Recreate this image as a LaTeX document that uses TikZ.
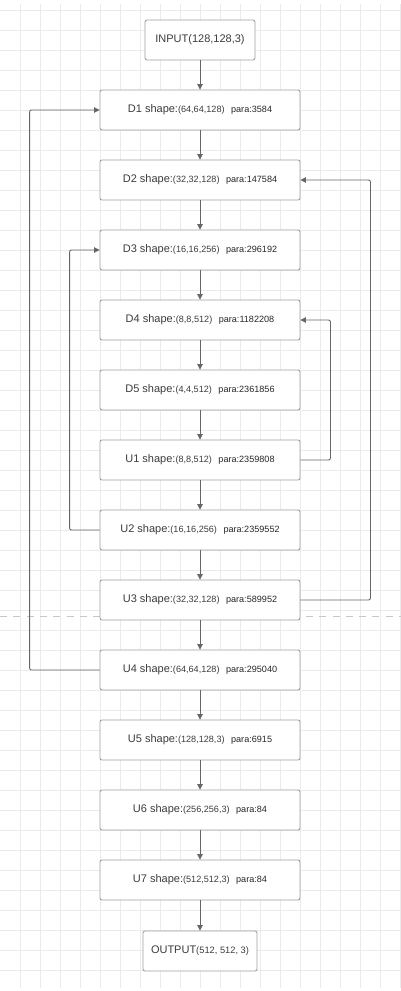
\documentclass[tikz,border=0pt]{standalone}
\usepackage{fontspec}
\setmainfont{Liberation Sans}
\usetikzlibrary{arrows.meta}
\definecolor{boxline}{HTML}{A0A0A0}
\definecolor{linkline}{HTML}{666666}
\definecolor{txt}{HTML}{3C3C3C}
\definecolor{gridc}{HTML}{EBEBEB}
\newcommand{\lyr}[3]{{\fontsize{11}{13}\selectfont #1 shape:}{\fontsize{9.1}{11}\selectfont #2\hspace{6.5pt}\textcolor{black!85}{para:#3}}}
\begin{document}
\begin{tikzpicture}[x=1pt,y=-1pt,
	box/.style={draw=boxline,line width=0.9pt,fill=white,rounded corners=2pt,minimum width=200pt,minimum height=40pt,inner sep=0pt,text=txt},
	endbox/.style={box,minimum width=110pt},
	flow/.style={draw=linkline,line width=0.9pt,-{Triangle[length=5.5pt,width=5.5pt]}},
	link/.style={flow,rounded corners=2pt},
	gridline/.style={draw=gridc,line width=0.8pt}]
		\useasboundingbox[fill=white] (0,0) rectangle (401,991);
		\foreach \gx in {20,40,...,400} \draw[gridline] (\gx,4) -- (\gx,988);
		\foreach \gy in {10,30,...,970} \draw[gridline] (0,\gy) -- (401,\gy);
		\draw[draw=black!22,line width=1pt,dash pattern=on 7pt off 6.3pt] (0,616) -- (401,616);
		% encoder
		\node[endbox] (in) at (200,40) {\fontsize{11}{13}\selectfont INPUT(128,128,3)};
		\node[box] (D1) at (200,110) {\lyr{D1}{(64,64,128)}{3584}};
		\node[box] (D2) at (200,180) {\lyr{D2}{(32,32,128)}{147584}};
		\node[box] (D3) at (200,250) {\lyr{D3}{(16,16,256)}{296192}};
		\node[box] (D4) at (200,320) {\lyr{D4}{(8,8,512)}{1182208}};
		\node[box] (D5) at (200,390) {\lyr{D5}{(4,4,512)}{2361856}};
		% decoder
		\node[box] (U1) at (200,460) {\lyr{U1}{(8,8,512)}{2359808}};
		\node[box] (U2) at (200,530) {\lyr{U2}{(16,16,256)}{2359552}};
		\node[box] (U3) at (200,600) {\lyr{U3}{(32,32,128)}{589952}};
		\node[box] (U4) at (200,670) {\lyr{U4}{(64,64,128)}{295040}};
		\node[box] (U5) at (200,740) {\lyr{U5}{(128,128,3)}{6915}};
		\node[box] (U6) at (200,810) {\lyr{U6}{(256,256,3)}{84}};
		\node[box] (U7) at (200,880) {\lyr{U7}{(512,512,3)}{84}};
		\node[endbox,minimum width=114pt] (out) at (200,951) {\fontsize{11}{13}\selectfont OUTPUT{\fontsize{9.3}{11}\selectfont(512, 512, 3)}};
		% main flow
		\draw[flow] (in) -- (D1);
		\draw[flow] (D1) -- (D2);
		\draw[flow] (D2) -- (D3);
		\draw[flow] (D3) -- (D4);
		\draw[flow] (D4) -- (D5);
		\draw[flow] (D5) -- (U1);
		\draw[flow] (U1) -- (U2);
		\draw[flow] (U2) -- (U3);
		\draw[flow] (U3) -- (U4);
		\draw[flow] (U4) -- (U5);
		\draw[flow] (U5) -- (U6);
		\draw[flow] (U6) -- (U7);
		\draw[flow] (U7) -- (out);
		% skip links
		\draw[link] (U4.west) -- ++(-70,0) |- (D1.west);
		\draw[link] (U2.west) -- ++(-30,0) |- (D3.west);
		\draw[link] (U1.east) -- ++(30,0) |- (D4.east);
		\draw[link] (U3.east) -- ++(70,0) |- (D2.east);
	    \end{tikzpicture}
\end{document}
